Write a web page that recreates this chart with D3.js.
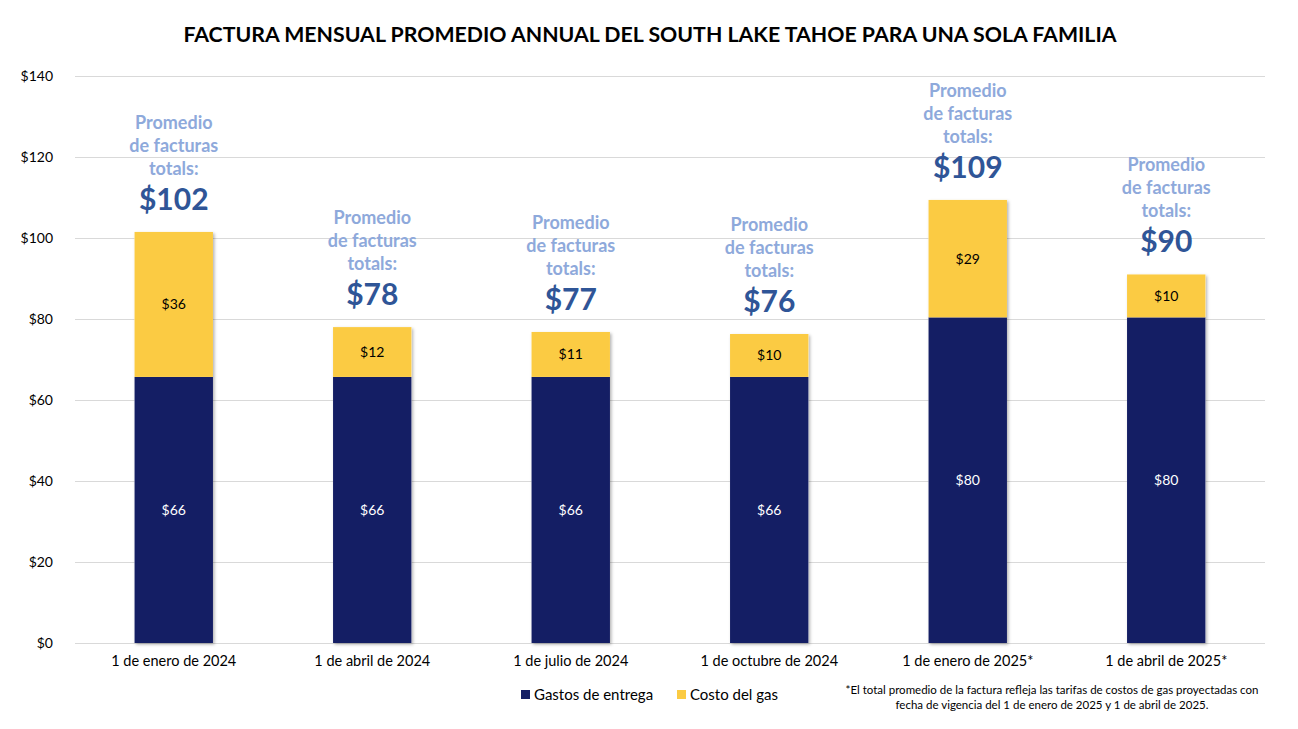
<!DOCTYPE html>
<html><head><meta charset="utf-8">
<script src="https://cdn.jsdelivr.net/npm/d3@7"></script>
<style>body{margin:0;background:#fff;}svg{display:block;font-family:Lato,"Open Sans",sans-serif;}</style>
</head><body><svg id="c" width="1298" height="729"></svg>
<script>
const categories = ["1 de enero de 2024","1 de abril de 2024","1 de julio de 2024","1 de octubre de 2024","1 de enero de 2025*","1 de abril de 2025*"];
const delivery = [65.7, 65.7, 65.7, 65.7, 80.4, 80.4];
const gas = [35.8, 12.3, 11.1, 10.6, 29.0, 10.6];
const deliveryLabels = ["$66","$66","$66","$66","$80","$80"];
const gasLabels = ["$36","$12","$11","$10","$29","$10"];
const totalLabels = ["$102","$78","$77","$76","$109","$90"];
const yTicks = [0,20,40,60,80,100,120,140];
const seriesNames = ["Gastos de entrega","Costo del gas"];
const colors = ["#141E64","#FBCB43"];

const svg = d3.select("#c");
const defs = svg.append("defs");
const f = defs.append("filter").attr("id","sh").attr("x","-20%").attr("y","-20%").attr("width","140%").attr("height","140%");
f.append("feDropShadow").attr("dx",1.5).attr("dy",1.5).attr("stdDeviation",1.5).attr("flood-color","#000").attr("flood-opacity",0.3);

const L=75,R=1265,T=76,B=643;
const x = d3.scaleBand().domain(categories).range([L,R]).paddingInner(0.605).paddingOuter(0.3);
const y = d3.scaleLinear().domain([0,140]).range([B,T]);

svg.append("text").attr("x",650).attr("y",42).attr("text-anchor","middle")
  .attr("font-size",21.3).attr("font-weight","bold").attr("fill","#000")
  .text("FACTURA MENSUAL PROMEDIO ANNUAL DEL SOUTH LAKE TAHOE PARA UNA SOLA FAMILIA");

// grid
svg.append("g").selectAll("line").data(yTicks).join("line")
  .attr("x1",L).attr("x2",R).attr("y1",d=>y(d)+0.5).attr("y2",d=>y(d)+0.5)
  .attr("stroke","#d9d9d9").attr("stroke-width",1);
const ya = svg.append("g").attr("transform",`translate(${L-19},0)`)
  .call(d3.axisLeft(y).tickValues(yTicks).tickSize(0).tickFormat(d=>"$"+d));
ya.select(".domain").remove();
ya.selectAll("text").attr("font-size",14).attr("fill","#000").attr("font-family","Lato,sans-serif");

const xa = svg.append("g").attr("transform",`translate(0,${B})`)
  .call(d3.axisBottom(x).tickSize(0).tickPadding(13));
xa.select(".domain").remove();
xa.selectAll("text").attr("font-size",14.5).attr("fill","#000").attr("font-family","Lato,sans-serif");

const bw = x.bandwidth();
const g = svg.append("g");
categories.forEach((c,i)=>{
  const x0 = x(c);
  const tot = delivery[i]+gas[i];
  g.append("rect").attr("x",x0).attr("width",bw).attr("y",y(tot)).attr("height",B-y(tot))
    .attr("fill","#fff").attr("filter","url(#sh)");
  g.append("rect").attr("x",x0).attr("width",bw).attr("y",y(delivery[i])).attr("height",B-y(delivery[i])).attr("fill",colors[0]);
  g.append("rect").attr("x",x0).attr("width",bw).attr("y",y(tot)).attr("height",y(delivery[i])-y(tot)).attr("fill",colors[1]);
  const cx = x0+bw/2;
  g.append("text").attr("x",cx).attr("y",(y(delivery[i])+B)/2+5).attr("text-anchor","middle")
    .attr("font-size",14).attr("fill","#fff").text(deliveryLabels[i]);
  g.append("text").attr("x",cx).attr("y",(y(delivery[i])+y(tot))/2+5).attr("text-anchor","middle")
    .attr("font-size",14).attr("fill","#000").text(gasLabels[i]);
  const ty = y(tot);
  g.append("text").attr("x",cx).attr("y",ty-22).attr("text-anchor","middle")
    .attr("font-size",30).attr("font-weight","bold").attr("fill","#2F5597").text(totalLabels[i]);
  ["Promedio","de facturas","totals:"].forEach((t,k)=>{
    g.append("text").attr("x",cx).attr("y",ty-103+k*23).attr("text-anchor","middle")
      .attr("font-size",18).attr("font-weight","bold").attr("fill","#8EA9DB").text(t);
  });
});

// legend
const lg = svg.append("g");
[[521,0],[677,1]].forEach(([lx,k])=>{
  lg.append("rect").attr("x",lx).attr("y",690).attr("width",9).attr("height",9).attr("fill",colors[k]);
  lg.append("text").attr("x",lx+13).attr("y",700).attr("font-size",15).attr("fill","#000").text(seriesNames[k]);
});
svg.append("text").attr("x",1052).attr("y",694).attr("text-anchor","middle").attr("font-size",11.5).attr("fill","#000")
  .text("*El total promedio de la factura refleja las tarifas de costos de gas proyectadas con");
svg.append("text").attr("x",1052).attr("y",709).attr("text-anchor","middle").attr("font-size",11.5).attr("fill","#000")
  .text("fecha de vigencia del 1 de enero de 2025 y 1 de abril de 2025.");
</script></body></html>
